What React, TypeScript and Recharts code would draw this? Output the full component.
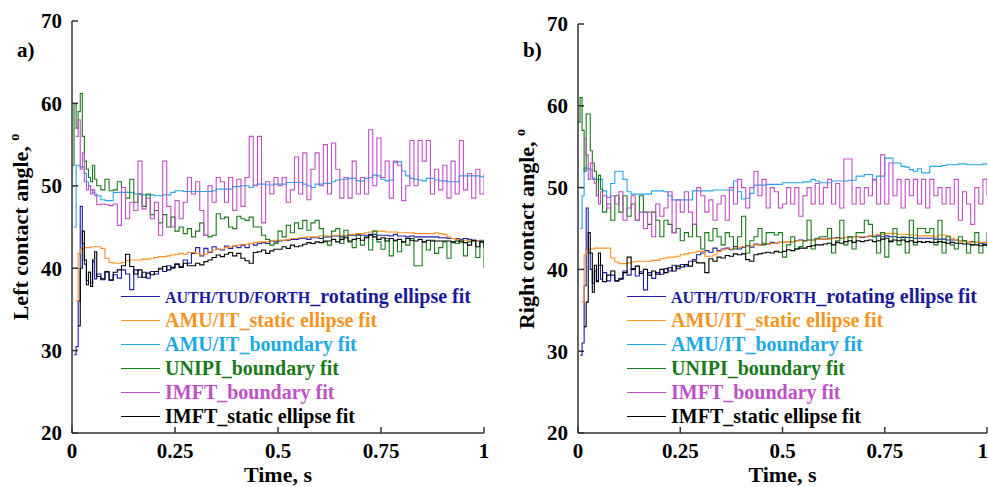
import { LineChart, Line, XAxis, YAxis } from 'recharts';

// time grid, s (denser at the start where the transients are)
const time = [
  0, 0.005, 0.01, 0.015, 0.02, 0.025, 0.03, 0.035, 0.04, 0.045, 0.05, 0.055,
  0.06, 0.07, 0.08, 0.09,
  0.1, 0.11, 0.12, 0.13, 0.14, 0.15, 0.16, 0.17, 0.18, 0.19,
  0.2, 0.21, 0.22, 0.23, 0.24, 0.25, 0.26, 0.27, 0.28, 0.29,
  0.3, 0.31, 0.32, 0.33, 0.34, 0.35, 0.36, 0.37, 0.38, 0.39,
  0.4, 0.41, 0.42, 0.43, 0.44, 0.45, 0.46, 0.47, 0.48, 0.49,
  0.5, 0.51, 0.52, 0.53, 0.54, 0.55, 0.56, 0.57, 0.58, 0.59,
  0.6, 0.61, 0.62, 0.63, 0.64, 0.65, 0.66, 0.67, 0.68, 0.69,
  0.7, 0.71, 0.72, 0.73, 0.74, 0.75, 0.76, 0.77, 0.78, 0.79,
  0.8, 0.81, 0.82, 0.83, 0.84, 0.85, 0.86, 0.87, 0.88, 0.89,
  0.9, 0.91, 0.92, 0.93, 0.94, 0.95, 0.96, 0.97, 0.98, 0.99,
  1,
];

// a) left contact angle, deg
const authLeft = [
  null, 29.5, 30.5, 36, 47.5, 43, 40.5, 38.5, 39.5, 38.2, 40.8, 38.7,
  39.3, 38.6, 39.5, 38.5,
  39.2, 38.8, 39.8, 39.3, 37.4, 39.8, 38.9, 39.5, 38.8, 39.6,
  39.3, 40, 39.6, 40.3, 40, 40.5, 40.2, 41, 40.6, 41.8,
  42.5, 41.5, 42.4, 41.9, 42.6, 42.3, 42.2, 42.7, 42.4, 42.7,
  42.5, 42.8, 42.5, 43, 42.8, 43, 43.1, 43, 43.3, 43.2,
  43.3, 43.4, 43.4, 43.5, 43.5, 43.6, 43.6, 43.5, 43.7, 43.7,
  43.6, 43.8, 43.8, 43.9, 43.9, 43.8, 43.9, 44, 44, 44.1,
  44, 44, 44.1, 44.1, 44, 44, 44, 43.9, 44.1, 43.9,
  43.9, 43.8, 43.9, 43.8, 43.8, 43.8, 43.8, 43.8, 43.8, 43.7,
  43.7, 43.6, 43.6, 43.6, 43.5, 43.6, 43.5, 43.4, 43.3, 43.2,
  42.8,
];
const amuStaticLeft = [
  null, null, 36, 41.8, 42.3, 42.4, 42.5, 42.5, 42.5, 42.6, 42.6, 42.6,
  42.6, 42.4, 41.2, 40.7,
  40.6, 40.6, 40.7, 40.9, 41, 41, 41, 41.1, 41.1, 41.2,
  41.3, 41.4, 41.4, 41.5, 41.6, 41.7, 41.8, 41.7, 41.9, 41.9,
  41.8, 41.6, 41.7, 42, 42.2, 42.3, 42.3, 42.5, 42.6, 42.7,
  42.8, 42.9, 42.9, 43, 43.1, 43.2, 43.2, 43.2, 43.3, 43.4,
  43.4, 43.4, 43.5, 43.6, 43.6, 43.7, 43.7, 43.8, 43.8, 43.8,
  43.9, 43.9, 43.9, 44, 44, 44, 44, 44.1, 44.1, 44.2,
  44.2, 44.3, 44.4, 44.5, 44.5, 44.5, 44.4, 44.4, 44.4, 44.3,
  44.3, 44.3, 44.3, 44.2, 44.2, 44.2, 44.2, 44.2, 44.3, 44.2,
  44.1, 43.8, 43.6, 43.5, 43.4, 43.4, 43.4, 43.3, 43.3, 43.3,
  43.2,
];
const amuBoundaryLeft = [
  null, 45, 52.5, 52.5, 52.3, 52.3, 51.5, 50.5, 50, 49.5, 49.2, 49,
  48.8, 48.3, 48.2, 48.2,
  49.2, 49.2, 49.2, 49.2, 49.2, 49, 49, 48.9, 48.9, 48.9,
  48.8, 48.8, 48.9, 48.9, 49.2, 49.4, 49.4, 49.3, 49.3, 49.3,
  49.3, 49.3, 49.3, 49.3, 49.4, 49.6, 49.6, 49.6, 49.6, 49.9,
  49.9, 50, 50, 49.8, 50.1, 50.2, 50.2, 50.1, 50.1, 50.2,
  50.2, 50.2, 50.4, 50.4, 50.4, 50.4, 50.2, 50, 49.8, 50.2,
  50.2, 50.3, 50.3, 50.5, 50.7, 50.8, 50.8, 50.9, 50.9, 50.6,
  50.6, 50.9, 51, 51.3, 51.2, 50.8, 50.6, 50.7, 52.8, 52.9,
  51.8, 51.2, 50.9, 50.8, 50.7, 50.6, 50.9, 50.9, 50.7, 50.6,
  50.6, 50.5, 50.5, 50.5, 51.2, 51.2, 51.2, 51.2, 51.2, 51.1,
  51,
];
const unipiLeft = [
  52.5, 60, 57, 59, 61.2, 56, 53, 52, 51, 50.5, 52.5, 50.8,
  50, 49.5, 50.8, 49.4,
  49.5, 50.5, 49.8, 48.5, 50.8, 48, 49, 47.5, 49, 46.5,
  47, 45.5, 46.5, 45, 46.2, 44.5, 45, 44.2, 44.8, 43.8,
  44.5, 45.5, 44, 43.8, 44, 46.6, 46, 46.2, 45, 44.8,
  46.3, 46, 45.8, 46.2, 45, 45, 44, 43.5, 42.8, 43,
  44.5, 43.8, 45.2, 44.3, 45.5, 44.8, 45.8, 44.6, 45.5, 45.8,
  44.8, 43.2, 42.8, 44.5, 44.8, 43, 44.6, 43.2, 42.5, 44,
  42.8, 43.8, 42.2, 44.5, 43.2, 42.3, 43.6, 41.5, 43.3, 42,
  43.2, 42.8, 43.6, 40.3, 40.3, 43.2, 42.2, 43.4, 41.8, 42.5,
  43.2, 41.2, 43.1, 43, 43.4, 41.5, 43.2, 43.3, 41.3, 43.4,
  40,
];
const imftBoundaryLeft = [
  null, null, 56, 58, 52, 54, 50.5, 49.5, 50, 49, 49.5, 48.8,
  47.7, 47.8, 47.7, 47.6,
  47.8, 45.2, 49.8, 46, 48, 47, 53, 47.2, 48.5, 46,
  48, 44, 53, 47.5, 45, 48.2, 46, 48, 51, 49,
  50.5, 47, 44, 50, 48, 51, 50.5, 48, 51, 47,
  50.8, 47.5, 51, 56, 50, 56, 45.5, 50.5, 49, 51,
  50, 51, 48, 49.5, 53.5, 49, 54, 48.3, 52, 54,
  50, 55, 49, 55.2, 52, 48.5, 51, 48.5, 53, 49,
  51, 49, 56.8, 50, 55.8, 51, 53, 48.5, 53, 52.5,
  48.2, 50, 55.5, 50, 55.5, 53, 55.5, 49, 52, 49.5,
  52.5, 48.5, 53, 49, 55.5, 49.5, 51.5, 48.5, 52, 49,
  51.5,
];
const imftStaticLeft = [
  null, null, null, 33, 40, 44.5, 41, 38, 39.5, 37.8, 41, 42,
  39, 38.7, 39.6, 38.6,
  39.5, 39.8, 40.3, 41.7, 40.2, 39.3, 39.8, 38.9, 39.4, 39.2,
  39.6, 39.9, 40.2, 39.8, 40.1, 40.5, 40.1, 40.6, 40.3, 40.3,
  40.6, 40.4, 40.8, 41, 41.3, 41.6, 41.4, 41.7, 41.9, 41.5,
  41.8, 41.2, 40.9, 40.6, 41.9, 42, 42.2, 41.8, 42.1, 42.3,
  42.3, 42.6, 42.4, 42.8, 42.6, 42.7, 42.9, 43.1, 43, 43.2,
  43.1, 43.3, 43.3, 43.5, 43.2, 43.5, 43.7, 43.3, 43.5, 43.6,
  43.4, 43.7, 44, 43.8, 43.5, 43.7, 43.3, 43.6, 43.4, 43.5,
  43.2, 43.6, 43.4, 43.3, 43.5, 43.2, 43.4, 43.3, 43.3, 43.3,
  43.3, 43.3, 43.2, 43.3, 43.2, 43.1, 42.8, 43.4, 42.6, 43.2,
  42.5,
];

// b) right contact angle, deg
const authRight = [
  null, 29.5, 31, 38, 47.5, 42, 40, 38.3, 39.8, 38.6, 40.5, 38.8,
  39.6, 38.6, 39.3, 38.6,
  38.9, 39.8, 39.3, 40.1, 39.2, 39.7, 37.5, 39.6, 38.9, 39.6,
  39.4, 40.1, 39.8, 40.5, 40.1, 40.6, 40.4, 41, 41.2, 41.8,
  42, 42.3, 42.1, 42.6, 42.3, 42.5, 42.6, 42.4, 42.8, 42.5,
  42.7, 42.9, 42.7, 43.1, 43, 43.2, 43.1, 43.3, 43.2, 43.3,
  43.3, 43.4, 43.4, 43.5, 43.6, 43.5, 43.6, 43.6, 43.7, 43.7,
  43.7, 43.8, 43.8, 43.9, 43.8, 43.9, 44, 44, 44, 43.9,
  44, 44.1, 44, 44.1, 44, 44.1, 44, 44, 43.9, 43.9,
  43.9, 43.9, 43.8, 43.8, 43.8, 43.8, 43.8, 43.7, 43.7, 43.7,
  43.6, 43.6, 43.6, 43.5, 43.5, 43.4, 43.4, 43.3, 43.2, 43.1,
  43,
];
const amuStaticRight = [
  null, null, 36, 41.8, 42.3, 42.4, 42.5, 42.5, 42.6, 42.6, 42.6, 42.6,
  42.6, 42.6, 41.4, 40.9,
  40.7, 40.7, 40.8, 40.9, 41, 41, 41, 41, 41.1, 41.1,
  41.3, 41.4, 41.5, 41.5, 41.6, 41.8, 41.9, 42, 42.1, 42.2,
  42.2, 41.6, 41.6, 41.8, 42.2, 42.4, 42.5, 42.5, 42.6, 42.7,
  42.8, 42.8, 42.9, 43, 43, 43.1, 43.1, 43.2, 43.2, 43.3,
  43.3, 43.4, 43.4, 43.5, 43.5, 43.5, 43.6, 43.6, 43.7, 43.7,
  43.7, 43.7, 43.8, 43.8, 43.8, 43.9, 43.9, 44, 44, 44,
  44, 44.1, 44.2, 44.3, 44.3, 44.4, 44.4, 44.4, 44.3, 44.3,
  44.3, 44.2, 44.2, 44.1, 44.1, 44.1, 44.1, 44, 44.2, 44.2,
  44.1, 43.8, 43.6, 43.5, 43.4, 43.4, 43.3, 43.3, 43.3, 43.3,
  43.2,
];
const amuBoundaryRight = [
  null, 45, 49, 52.4, 52.4, 52.3, 52.2, 51.2, 51, 51, 51, 51,
  49.6, 48.8, 50.5, 52,
  52, 51, 49.5, 49.2, 49.2, 49.2, 49.2, 49.2, 49.6, 49.6,
  49.6, 49.5, 49, 48.5, 48.5, 48.5, 48.5, 48.5, 49.6, 49.6,
  49.6, 49.6, 49.6, 49.7, 49.7, 49.7, 49.7, 49.7, 50.8, 49.5,
  48.6, 48.7, 49.3, 50.3, 50.3, 50.3, 50.4, 50.4, 50.4, 50.4,
  50.6, 50.6, 50.6, 50.6, 50.6, 50.7, 50.7, 51, 50.8, 50.6,
  50.6, 50.6, 50.8, 50.8, 50.8, 50.8, 50.9, 50.9, 51.4, 51.4,
  51.6, 51.6, 50.9, 51.4, 51.4, 53.6, 53.6, 53, 53, 52.6,
  52.5, 52.2, 52, 52.3, 51.8, 51.8, 52.6, 52.6, 52.6, 52.7,
  52.8, 52.8, 52.8, 52.9, 52.9, 52.8, 52.8, 52.8, 52.8, 52.9,
  52.8,
];
const unipiRight = [
  58, 61, 57, 52, 59, 59, 54.5, 53, 52, 49, 51.5, 49.8,
  47, 48, 46, 49,
  47, 49, 46.5, 48, 46, 49, 47, 45.5, 47, 46,
  44, 46, 45.5, 44.5, 45, 43.5, 44.5, 44, 45.5, 44,
  42.5, 44.5, 43.5, 45, 44, 43, 44.5, 44, 42.5, 44,
  46.5, 42, 43.5, 44, 45, 43, 44.5, 44.5, 44.2, 44.5,
  41.5, 43, 44, 42.5, 42.8, 43.5, 46, 42.5, 43.8, 44,
  44, 45, 42, 43.5, 46, 43, 44, 42.5, 44.5, 44.5,
  46, 45.5, 44, 42, 44.5, 41.5, 43.5, 45, 43, 44,
  42, 46, 43, 45, 45, 44.5, 45, 43, 46, 42,
  44, 43, 42.5, 44, 43.5, 42, 43, 44.5, 42, 43,
  44.5,
];
const imftBoundaryRight = [
  null, null, null, 56, 54, 51, 53, 51, 50.5, 49, 48, 49.5,
  49, 47.5, 49, 48,
  49.5, 46, 47.5, 49, 46, 47, 45, 47, 44, 48,
  46.5, 47.5, 49.5, 44.5, 48.5, 47, 49.5, 47, 45.5, 50,
  49, 47, 48.5, 46, 48, 49, 46, 50, 48, 51,
  50, 47.5, 50, 52, 49, 51, 47.5, 50, 49.5, 47.5,
  48, 50, 48, 50, 46.5, 49, 50, 48, 50.5, 48,
  50, 51, 48, 50.5, 47.5, 53.5, 53.5, 48, 50, 48,
  50, 49, 51, 48, 54, 48, 53, 49, 51, 47.5,
  51, 49, 51, 48, 51, 47.5, 51, 49, 50, 48,
  50, 48, 51, 46, 49.5, 48, 45.5, 50, 48, 51,
  49,
];
const imftStaticRight = [
  null, null, null, 33, 36, 44.5, 42, 37.2, 40.5, 38.5, 42, 40.5,
  38.5, 39.3, 39.8, 38.6,
  38.8, 39.6, 41.5, 40, 40.4, 39.5, 40, 39.3, 39.8, 39.4,
  40, 39.6, 40.2, 39.8, 40.4, 40.3, 40.6, 40.4, 41, 40.8,
  40.8, 39.6, 41.3, 41, 41.5, 41.4, 41.7, 41.6, 41.9, 41.8,
  41.9, 41.2, 41, 41.8, 41.9, 42, 42.1, 42, 42.2, 42.1,
  42.2, 42.4, 42.3, 42.5, 42.6, 42.6, 42.8, 42.9, 43, 43,
  43.1, 43.2, 43, 43.3, 43.2, 43.4, 43.5, 43.3, 43.5, 43.4,
  43.5, 43.6, 43.4, 43.5, 43.7, 43.8, 43.4, 43.6, 43.5, 43.6,
  43.4, 43.5, 43.3, 43.4, 43.3, 43.4, 43.3, 43.3, 43.4, 43.3,
  43.2, 43.3, 43.2, 43.2, 43.1, 43.1, 43, 43, 42.9, 43,
  42.8,
];

const xTicks = [0, 0.25, 0.5, 0.75, 1];
const yTicks = [20, 30, 40, 50, 60, 70];

const series = [
  { key: 'auth', color: '#1c1cb0', text: '#1a1a9c' },
  { key: 'amuStatic', color: '#ff8f1f', text: '#f7941d' },
  { key: 'amuBoundary', color: '#22a8e8', text: '#1ca9e6' },
  { key: 'unipi', color: '#1b7a1b', text: '#1a7a1a' },
  { key: 'imftBoundary', color: '#c050c4', text: '#c050c8' },
  { key: 'imftStatic', color: '#000000', text: '#000000' },
];

const FONT = '"Liberation Serif", "Times New Roman", serif';
const AXIS = '#333';

const buildRows = (cols: Record<string, (number | null)[]>) =>
  time.map((t, i) => {
    const row: Record<string, number | null> = { t };
    Object.keys(cols).forEach((k) => {
      row[k] = cols[k][i];
    });
    return row;
  });

const leftData = buildRows({
  auth: authLeft,
  amuStatic: amuStaticLeft,
  amuBoundary: amuBoundaryLeft,
  unipi: unipiLeft,
  imftBoundary: imftBoundaryLeft,
  imftStatic: imftStaticLeft,
});

const rightData = buildRows({
  auth: authRight,
  amuStatic: amuStaticRight,
  amuBoundary: amuBoundaryRight,
  unipi: unipiRight,
  imftBoundary: imftBoundaryRight,
  imftStatic: imftStaticRight,
});

const legendLabels = [
  <>
    <span style={{ fontSize: 16 }}>AUTH/TUD/FORTH</span>_rotating ellipse fit
  </>,
  <>AMU/IT_static ellipse fit</>,
  <>AMU/IT_boundary fit</>,
  <>UNIPI_boundary fit</>,
  <>IMFT_boundary fit</>,
  <>IMFT_static ellipse fit</>,
];

interface PanelProps {
  data: Record<string, number | null>[];
  letter: string;
  yLabel: string;
  yAxisWidth: number;
  top: number;
  right: number;
}

const tickStyle = { fontFamily: FONT, fontSize: 21, fontWeight: 700, fill: '#000' };

const Panel = ({ data, letter, yLabel, yAxisWidth, top, right }: PanelProps) => {
  const plotLeft = yAxisWidth;
  const plotRight = 494 - right;
  const plotMid = (plotLeft + plotRight) / 2;
  const plotMidY = (top + 433) / 2;

  return (
    <div style={{ position: 'relative', width: 494, height: 487 }}>
      <LineChart width={494} height={487} data={data} margin={{ top, right, left: 0, bottom: 0 }}>
        <XAxis
          xAxisId="b"
          dataKey="t"
          type="number"
          domain={[0, 1]}
          ticks={xTicks}
          height={54}
          tickSize={-6}
          tickMargin={16}
          tick={tickStyle}
          stroke={AXIS}
          strokeWidth={1.5}
          allowDataOverflow
        />
        <XAxis
          xAxisId="top"
          orientation="top"
          dataKey="t"
          type="number"
          domain={[0, 1]}
          ticks={xTicks}
          height={0}
          tickSize={-6}
          tick={false}
          stroke={AXIS}
          strokeWidth={1.5}
          allowDataOverflow
        />
        <YAxis
          yAxisId="l"
          type="number"
          domain={[20, 70]}
          ticks={yTicks}
          width={yAxisWidth}
          tickSize={-6}
          tickMargin={16}
          tick={tickStyle}
          stroke={AXIS}
          strokeWidth={1.5}
          allowDataOverflow
        />
        <YAxis
          yAxisId="r"
          orientation="right"
          type="number"
          domain={[20, 70]}
          ticks={yTicks}
          width={0}
          tickSize={-6}
          tick={false}
          stroke={AXIS}
          strokeWidth={1.5}
          allowDataOverflow
        />
        {series.map((s) => (
          <Line
            key={s.key}
            xAxisId="b"
            yAxisId="l"
            type="stepAfter"
            dataKey={s.key}
            stroke={s.color}
            strokeWidth={1.1}
            dot={false}
            activeDot={false}
            isAnimationActive={false}
          />
        ))}
      </LineChart>

      {/* panel letter */}
      <div
        style={{
          position: 'absolute',
          left: plotLeft - 55,
          top: 38,
          fontFamily: FONT,
          fontWeight: 700,
          fontSize: 21,
          lineHeight: '24px',
        }}
      >
        {letter}
      </div>

      {/* y label */}
      <div
        style={{
          position: 'absolute',
          left: plotLeft - 50,
          top: plotMidY,
          transform: 'translate(-50%, -50%) rotate(-90deg)',
          whiteSpace: 'nowrap',
          fontFamily: FONT,
          fontWeight: 700,
          fontSize: 22,
          lineHeight: '24px',
        }}
      >
        {yLabel}
        <span style={{ fontSize: 14, position: 'relative', top: -9 }}>o</span>
      </div>

      {/* x label */}
      <div
        style={{
          position: 'absolute',
          left: plotMid,
          top: 475,
          transform: 'translate(-50%, -50%)',
          whiteSpace: 'nowrap',
          fontFamily: FONT,
          fontWeight: 700,
          fontSize: 22,
          lineHeight: '24px',
        }}
      >
        Time, s
      </div>

      {/* legend */}
      {series.map((s, i) => (
        <div
          key={s.key}
          style={{
            position: 'absolute',
            left: plotLeft + 49,
            top: 296 + i * 24.1 - 12,
            height: 24,
            display: 'flex',
            alignItems: 'center',
            whiteSpace: 'nowrap',
            fontFamily: FONT,
            fontWeight: 700,
            fontSize: 20,
            color: s.text,
          }}
        >
          <span style={{ display: 'inline-block', width: 39, borderTop: `1.3px solid ${s.color}`, marginRight: 5 }} />
          <span>{legendLabels[i]}</span>
        </div>
      ))}
    </div>
  );
};

export default function App() {
  return (
    <div
      style={{
        position: 'fixed',
        left: 0,
        top: 0,
        width: 988,
        height: 487,
        background: '#fff',
        display: 'flex',
        overflow: 'hidden',
      }}
    >
      <Panel data={leftData} letter="a)" yLabel="Left contact angle, " yAxisWidth={72} top={21} right={10} />
      <Panel data={rightData} letter="b)" yLabel="Right contact angle, " yAxisWidth={84} top={24} right={1} />
    </div>
  );
}
